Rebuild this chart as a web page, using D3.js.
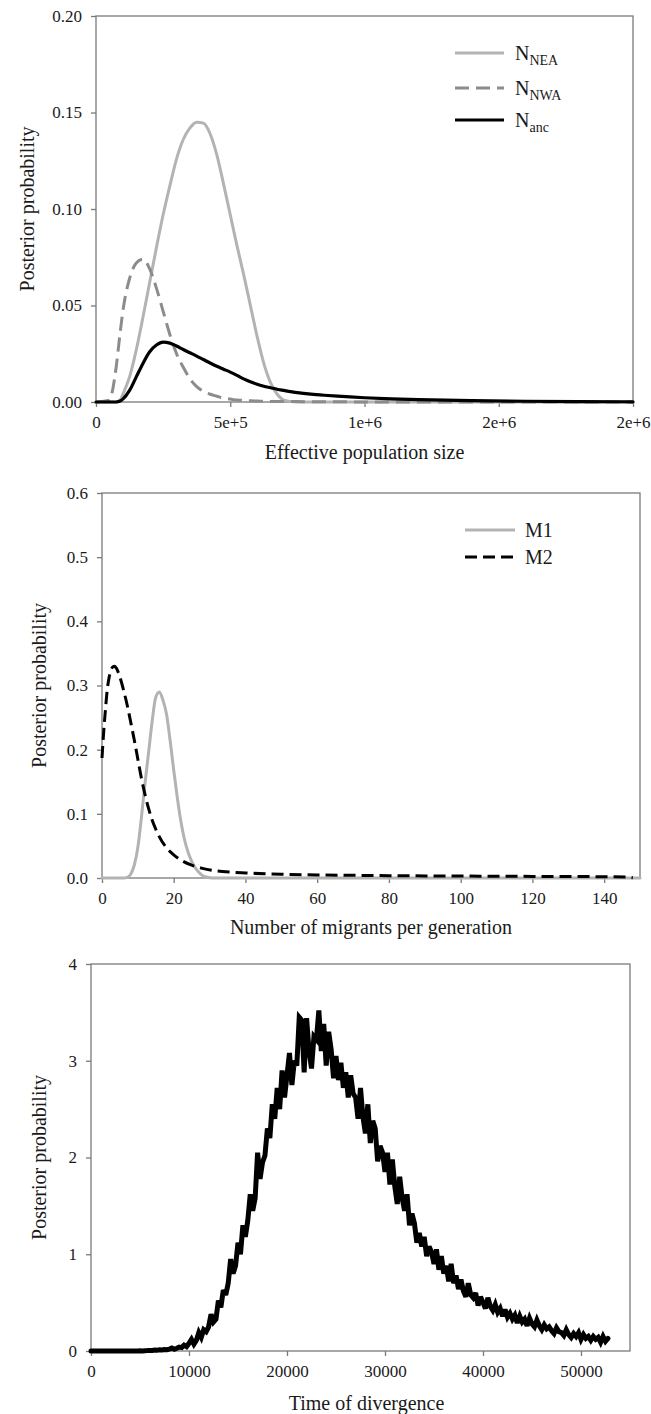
<!DOCTYPE html>
<html><head><meta charset="utf-8">
<script src="https://cdn.jsdelivr.net/npm/d3@7"></script>
<style>
body{margin:0;background:#fff}
svg{display:block;background:#fff}
text{font-family:"Liberation Serif","Times New Roman",serif;fill:#1a1a1a}
</style></head>
<body><svg id="c" width="651" height="1414"></svg>
<script>
// ---------- Panel 1 data: effective population size ----------
const popX = [0,50000,60000,75000,90000,100000,125000,150000,175000,200000,225000,250000,275000,300000,325000,350000,375000,400000,425000,450000,475000,500000,525000,550000,575000,600000,625000,650000,675000,700000,750000,800000,850000,900000,1000000,1100000,1200000,1400000,1600000,1800000,2000000];
const nNEA = [0,0,0,0,0.001,0.004,0.013,0.027,0.044,0.062,0.080,0.097,0.112,0.126,0.136,0.142,0.145,0.1445,0.139,0.128,0.113,0.097,0.081,0.066,0.050,0.034,0.020,0.010,0.004,0.001,0,0,0,0,0,0,0,0,0,0,0];
const nNWA = [0,0.001,0.005,0.018,0.036,0.047,0.064,0.072,0.074,0.069,0.059,0.047,0.035,0.025,0.018,0.012,0.008,0.0055,0.004,0.003,0.002,0.0015,0.001,0.0008,0.0006,0.0005,0.0004,0.0003,0.0003,0.0002,0.0002,0.0001,0.0001,0.0001,0,0,0,0,0,0,0];
const nAnc = [0,0,0,0,0.0005,0.0015,0.006,0.013,0.020,0.026,0.0295,0.031,0.0305,0.029,0.0272,0.0255,0.0238,0.022,0.0202,0.0185,0.017,0.0155,0.0138,0.012,0.0105,0.0092,0.0082,0.0074,0.0066,0.006,0.0049,0.0041,0.0035,0.003,0.0022,0.0016,0.0012,0.0007,0.0004,0.0002,0.0001];
const popXTicks = [0,500000,1000000,1500000,2000000];
const popXTickLabels = ["0","5e+5","1e+6","2e+6","2e+6"];
const popYTicks = [0,0.05,0.10,0.15,0.20];
const popYTickLabels = ["0.00","0.05","0.10","0.15","0.20"];

// ---------- Panel 2 data: migrants per generation ----------
const m1X = [0,6,7,8,9,10,11,12,13,14,15,16,17,18,19,20,21,22,23,24,25,26,27,28,29,30,32,150];
const m1Y = [0,0,0.001,0.006,0.02,0.048,0.095,0.148,0.196,0.245,0.282,0.29,0.277,0.255,0.214,0.168,0.125,0.088,0.06,0.04,0.026,0.016,0.009,0.004,0.0015,0.0005,0,0];
const m2X = [0,0.5,1,1.5,2,2.5,3,3.5,4,5,6,7,8,9,10,11,12,13,14,15,16,18,20,22,25,28,32,36,40,50,60,80,100,120,140,146,148];
const m2Y = [0.187,0.23,0.265,0.295,0.313,0.324,0.329,0.33,0.327,0.313,0.293,0.27,0.243,0.215,0.185,0.155,0.13,0.108,0.09,0.076,0.064,0.047,0.036,0.028,0.02,0.015,0.011,0.009,0.0078,0.0058,0.0048,0.0037,0.003,0.0025,0.002,0.0015,0.0003];
const migXTicks = [0,20,40,60,80,100,120,140];
const migYTicks = [0,0.1,0.2,0.3,0.4,0.5,0.6];

// ---------- Panel 3 data: time of divergence (sampled every 250 generations from 0) ----------
const tStart = 0, tStep = 250;
const tProb = [
0,0,0,0, 0,0,0,0, 0,0,0,0, 0,0,0,0, 0,0,0,0.001,
0.002,0.001,0.003,0.004, 0.006,0.005,0.009,0.008, 0.012,0.01,0.016,0.014, 0.02,0.03,0.018,0.028, 0.04,0.035,0.06,0.045,
0.08,0.12,0.07,0.11, 0.19,0.14,0.22,0.2, 0.25,0.38,0.3,0.33, 0.52,0.45,0.63,0.58, 0.7,0.95,0.8,0.88,
1.12,1.0,1.3,1.18, 1.35,1.62,1.45,1.58, 2.05,1.78,1.95,2.02, 2.3,2.2,2.55,2.4, 2.72,2.5,2.9,2.62,
2.85,3.08,2.75,3.0, 2.95,3.45,3.42,2.88, 3.44,3.1,2.92,3.25, 3.22,3.52,3.1,3.38, 2.95,3.3,3.12,2.82,
3.05,2.8,2.98,2.72, 2.88,2.62,2.85,2.66, 2.62,2.4,2.72,2.42, 2.25,2.55,2.15,2.38, 2.3,1.96,2.12,2.05,
1.85,2.05,1.72,1.98, 1.7,1.52,1.8,1.58, 1.45,1.62,1.3,1.42, 1.32,1.12,1.22,1.08, 1.18,0.98,1.08,1.02,
0.9,1.05,0.84,0.98, 0.8,0.88,0.72,0.9, 0.7,0.78,0.64,0.74, 0.62,0.56,0.7,0.58, 0.55,0.6,0.47,0.56,
0.5,0.44,0.55,0.46, 0.42,0.48,0.4,0.44, 0.36,0.43,0.35,0.39, 0.33,0.37,0.29,0.36, 0.3,0.33,0.26,0.34,
0.28,0.25,0.32,0.26, 0.22,0.27,0.23,0.25, 0.21,0.18,0.24,0.2, 0.19,0.16,0.22,0.17, 0.14,0.18,0.15,0.19,
0.12,0.17,0.13,0.15, 0.11,0.15,0.12,0.14, 0.09,0.15,0.1,0.13
];
const tX = tProb.map((_, i) => tStart + i * tStep);
const timeXTicks = [0,10000,20000,30000,40000,50000];
const timeYTicks = [0,1,2,3,4];

// ---------- drawing ----------
const svg = d3.select("#c");
const AXIS = "#7a7a7a";

function drawPanel(o){
  const g = svg.append("g");
  const x = d3.scaleLinear().domain(o.xDomain).range([o.left, o.right]);
  const y = d3.scaleLinear().domain(o.yDomain).range([o.bottom, o.top]);

  g.append("rect").attr("x", o.left).attr("y", o.top)
    .attr("width", o.right - o.left).attr("height", o.bottom - o.top)
    .attr("fill", "none").attr("stroke", AXIS).attr("stroke-width", 1.3);

  const xa = d3.axisBottom(x).tickValues(o.xTicks)
    .tickFormat((d, i) => o.xTickLabels[i]).tickSize(5).tickPadding(9);
  const gx = g.append("g").attr("transform", `translate(0,${o.bottom})`).call(xa);
  const ya = d3.axisLeft(y).tickValues(o.yTicks)
    .tickFormat((d, i) => o.yTickLabels[i]).tickSize(5).tickPadding(9);
  const gy = g.append("g").attr("transform", `translate(${o.left},0)`).call(ya);
  [gx, gy].forEach(a => {
    a.select(".domain").remove();
    a.selectAll(".tick line").attr("stroke", AXIS).attr("stroke-width", 1.3);
    a.selectAll(".tick text").style("font-family", '"Liberation Serif","Times New Roman",serif')
      .style("font-size", "17px").attr("fill", "#1a1a1a");
  });

  o.series.forEach(s => {
    const line = d3.line().x(d => x(d[0])).y(d => y(d[1])).curve(s.curve || d3.curveMonotoneX);
    g.append("path").datum(d3.zip(s.x, s.y)).attr("d", line)
      .attr("fill", "none").attr("stroke", s.color).attr("stroke-width", s.width)
      .attr("stroke-dasharray", s.dash || null)
      .attr("stroke-linejoin", s.join || "round").attr("stroke-miterlimit", 3)
      .attr("stroke-linecap", s.dash ? "butt" : "round");
  });

  g.append("text").attr("x", (o.left + o.right) / 2 + (o.xTitleShift || 0)).attr("y", o.xTitleY)
    .attr("text-anchor", "middle").style("font-size", "20px").text(o.xTitle);
  g.append("text").attr("transform", `translate(${o.yTitleX},${(o.top + o.bottom) / 2}) rotate(-90)`)
    .attr("text-anchor", "middle").style("font-size", "20px").text(o.yTitle);

  if (o.legend){
    o.legend.items.forEach((it, i) => {
      const ly = o.legend.ys[i];
      g.append("line").attr("x1", o.legend.x1).attr("x2", o.legend.x2).attr("y1", ly).attr("y2", ly)
        .attr("stroke", it.color).attr("stroke-width", it.width).attr("stroke-dasharray", it.dash || null);
      const t = g.append("text").attr("x", o.legend.tx).attr("y", ly + 7).style("font-size", "20px");
      t.append("tspan").text(it.label);
      if (it.sub) t.append("tspan").attr("dy", 5).style("font-size", "14px").text(it.sub);
    });
  }
}

drawPanel({
  left: 96, right: 633, top: 16, bottom: 402,
  xDomain: [0, 2000000], yDomain: [0, 0.20],
  xTicks: popXTicks, xTickLabels: popXTickLabels,
  yTicks: popYTicks, yTickLabels: popYTickLabels,
  xTitle: "Effective population size", xTitleY: 459,
  yTitle: "Posterior probability", yTitleX: 34,
  series: [
    {x: popX, y: nNEA, color: "#b3b3b3", width: 3},
    {x: popX, y: nNWA, color: "#8c8c8c", width: 3, dash: "14,7"},
    {x: popX, y: nAnc, color: "#000", width: 3.2}
  ],
  legend: {x1: 455, x2: 504, tx: 515, ys: [53, 88, 120], items: [
    {label: "N", sub: "NEA", color: "#b3b3b3", width: 3},
    {label: "N", sub: "NWA", color: "#8c8c8c", width: 3, dash: "14,7"},
    {label: "N", sub: "anc", color: "#000", width: 3.2}
  ]}
});

drawPanel({
  left: 102, right: 640, top: 493, bottom: 878,
  xDomain: [0, 150], yDomain: [0, 0.6],
  xTicks: migXTicks, xTickLabels: migXTicks.map(String),
  yTicks: migYTicks, yTickLabels: migYTicks.map(d => d.toFixed(1)),
  xTitle: "Number of migrants per generation", xTitleY: 934,
  yTitle: "Posterior probability", yTitleX: 46,
  series: [
    {x: m1X, y: m1Y, color: "#b3b3b3", width: 3},
    {x: m2X, y: m2Y, color: "#000", width: 3, dash: "12,6"}
  ],
  legend: {x1: 465, x2: 515, tx: 525, ys: [530, 557], items: [
    {label: "M1", color: "#b3b3b3", width: 3},
    {label: "M2", color: "#000", width: 3, dash: "12,6"}
  ]}
});

drawPanel({
  left: 91, right: 630, top: 964, bottom: 1351,
  xDomain: [0, 55000], yDomain: [0, 4],
  xTicks: timeXTicks, xTickLabels: timeXTicks.map(String),
  yTicks: timeYTicks, yTickLabels: timeYTicks.map(String),
  xTitle: "Time of divergence", xTitleY: 1410, xTitleShift: 6,
  yTitle: "Posterior probability", yTitleX: 46,
  series: [
    {x: tX, y: tProb, color: "#000", width: 5, curve: d3.curveLinear, join: "miter"}
  ]
});
</script></body></html>
